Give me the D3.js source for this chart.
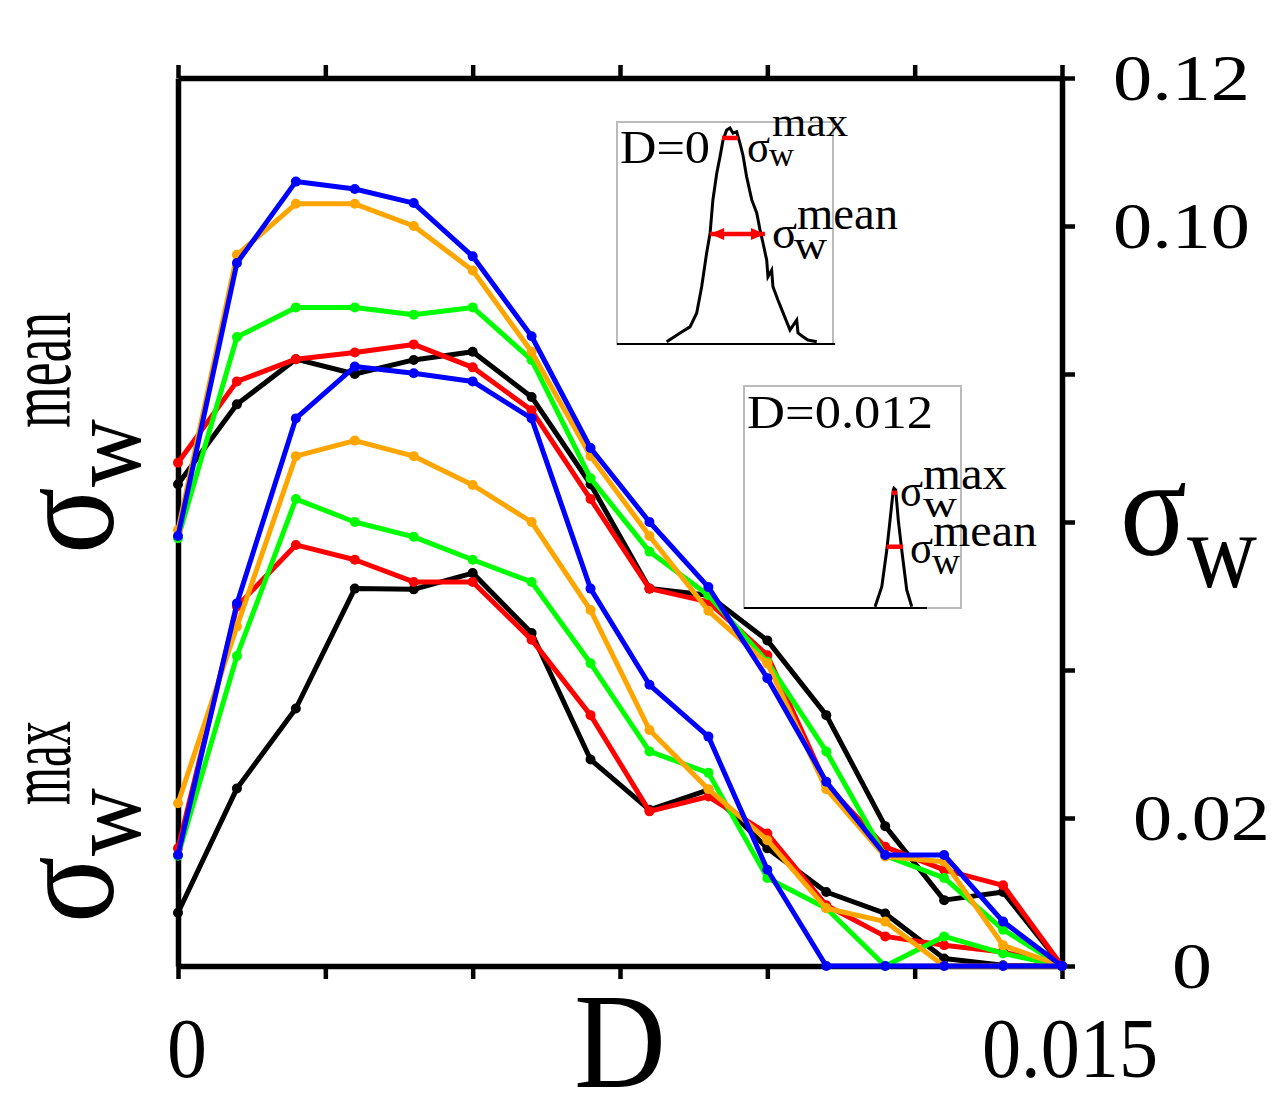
<!DOCTYPE html>
<html><head><meta charset="utf-8">
<script src="https://cdn.jsdelivr.net/npm/d3@7"></script>
<style>body{margin:0;background:#fff}svg{display:block}text{font-family:"Liberation Serif","Times New Roman",serif;fill:#000}</style>
</head><body><svg id="c" width="1280" height="1100"></svg>
<script>
// ---- data ----
const D = [0,0.001,0.002,0.003,0.004,0.005,0.006,0.007,0.008,0.009,0.010,0.011,0.012,0.013,0.014,0.015];
// upper group: sigma_w^mean
const meanBlack  = [0.0651,0.0759,0.0820,0.0800,0.0819,0.0830,0.0769,0.0651,0.0510,0.0501,0.0440,0.0339,0.0189,0.0089,0.0100,0];
const meanRed    = [0.0680,0.0790,0.0820,0.0829,0.0840,0.0809,0.0751,0.0631,0.0510,0.0492,0.0420,0.0245,0.0161,0.0130,0.0109,0];
const meanGreen  = [0.0578,0.0850,0.0890,0.0890,0.0880,0.0890,0.0819,0.0659,0.0560,0.0501,0.0411,0.0290,0.0149,0.0119,0.0049,0];
const meanOrange = [0.0589,0.0961,0.1030,0.1030,0.1000,0.0940,0.0830,0.0689,0.0581,0.0480,0.0409,0.0239,0.0148,0.0141,0.0028,0];
const meanBlue   = [0.0581,0.0950,0.1060,0.1050,0.1031,0.0959,0.0851,0.0700,0.0600,0.0512,0.0389,0.0249,0.0150,0.0150,0.0060,0];
// lower group: sigma_w^max
const maxBlack  = [0.0072,0.0240,0.0348,0.0510,0.0509,0.0531,0.0450,0.0279,0.0211,0.0238,0.0159,0.0100,0.0071,0.0010,0.0001,0];
const maxRed    = [0.0159,0.0486,0.0569,0.0549,0.0519,0.0519,0.0441,0.0339,0.0209,0.0229,0.0179,0.0082,0.0040,0.0028,0.0019,0];
const maxGreen  = [0.0149,0.0419,0.0631,0.0600,0.0580,0.0549,0.0519,0.0409,0.0290,0.0261,0.0119,0.0078,0,0.0040,0.0017,0];
const maxOrange = [0.0220,0.0459,0.0689,0.0710,0.0689,0.0650,0.0600,0.0481,0.0319,0.0239,0.0170,0.0078,0.0060,0,0,0];
const maxBlue   = [0.0150,0.0490,0.0740,0.0810,0.0801,0.0790,0.0740,0.0510,0.0380,0.0310,0.0130,0,0,0,0,0];

const seriesColors = ["#000000","#ff0000","#00ff00","#ffa500","#0000ff"];
const meanSeries = [meanBlack, meanRed, meanGreen, meanOrange, meanBlue];
const maxSeries  = [maxBlack, maxRed, maxGreen, maxOrange, maxBlue];

const xTicks = [0,0.0025,0.005,0.0075,0.01,0.0125,0.015];
const xTickLabels = ["0","0.015"];
const xTickLabelValues = [0,0.015];
const yTicks = [0,0.02,0.04,0.06,0.08,0.10,0.12];
const yTickLabels = ["0","0.02","0.10","0.12"];
const yTickLabelValues = [0,0.02,0.10,0.12];

// inset histograms (normalized width value, normalized count)
const inset1U = [0.230,0.292,0.338,0.369,0.392,0.415,0.431,0.444,0.462,0.477,0.491,0.508,0.523,0.537,0.554,0.569,0.583,0.600,0.624,0.647,0.662,0.676,0.693,0.699,0.716,0.722,0.745,0.769,0.801,0.832,0.838,0.861,0.884,0.925];
const inset1V = [0.010,0.050,0.077,0.140,0.258,0.410,0.500,0.649,0.770,0.844,0.919,0.964,0.973,0.950,0.956,0.905,0.851,0.754,0.649,0.590,0.514,0.455,0.378,0.303,0.333,0.258,0.198,0.140,0.063,0.108,0.050,0.033,0.018,0.010];
const inset2U = [0.604,0.635,0.658,0.673,0.688,0.691,0.699,0.711,0.727,0.750,0.773];
const inset2V = [0.006,0.096,0.261,0.396,0.532,0.539,0.532,0.396,0.261,0.081,0.006];
const inset1Max = {u0:0.486,u1:0.560,v:0.928}, inset1Mean = {u0:0.431,u1:0.685,v:0.495};
const inset2Max = {u0:0.682,u1:0.705,v:0.519}, inset2Mean = {u0:0.657,u1:0.733,v:0.276};

// ---- drawing ----
const svg = d3.select("#c");
const x = d3.scaleLinear().domain([0,0.015]).range([178,1062]);
const y = d3.scaleLinear().domain([0,0.12]).range([966,78]);

function styleAxis(g){
  g.selectAll("path.domain").attr("stroke","#000").attr("stroke-width",5.5);
  g.selectAll(".tick line").attr("stroke","#000").attr("stroke-width",4.5);
  g.selectAll(".tick text").remove();
}
svg.append("g").attr("transform","translate(0,966)")
  .call(d3.axisBottom(x).tickValues(xTicks).tickSize(13).tickSizeOuter(0)).call(styleAxis);
svg.append("g").attr("transform","translate(0,78)")
  .call(d3.axisTop(x).tickValues(xTicks).tickSize(13).tickSizeOuter(0)).call(styleAxis);
svg.append("g").attr("transform","translate(1062,0)")
  .call(d3.axisRight(y).tickValues(yTicks).tickSize(13).tickSizeOuter(0)).call(styleAxis);
svg.append("g").attr("transform","translate(178,0)")
  .call(d3.axisLeft(y).tickValues([]).tickSize(0).tickSizeOuter(0)).call(styleAxis);

// series
const line = d3.line().x((d,i)=>x(D[i])).y(d=>y(d));
const gS = svg.append("g");
seriesColors.forEach((c,k)=>{
  [maxSeries[k], meanSeries[k]].forEach(arr=>{
    gS.append("path").datum(arr).attr("d",line).attr("fill","none")
      .attr("stroke",c).attr("stroke-width",5).attr("stroke-linejoin","round");
    gS.selectAll(null).data(arr).enter().append("circle")
      .attr("cx",(d,i)=>x(D[i])).attr("cy",d=>y(d)).attr("r",5).attr("fill",c);
  });
});

function fitText(g,x0,yb,fs,len,txt){
  return g.append("text").attr("x",x0).attr("y",yb).attr("font-size",fs)
    .attr("textLength",len).attr("lengthAdjust","spacingAndGlyphs").text(txt);
}

// tick labels
xTickLabels.forEach((t,i)=>{
  const len = t.length>1 ? 176 : 40;
  fitText(svg, x(xTickLabelValues[i]) + (t.length>1 ? -80 : -11), 1077, 84, len, t);
});
const yLabX = {"0.12":1113,"0.10":1113,"0.02":1133,"0":1172};
const yLabLen = {"0.12":137,"0.10":137,"0.02":137,"0":40};
yTickLabels.forEach((t,i)=>{
  fitText(svg, yLabX[t], y(yTickLabelValues[i])+22, 66, yLabLen[t], t);
});

// axis titles
fitText(svg,574,1087,136,92,"D");
fitText(svg,1120,555,140,67,"σ");
fitText(svg,1187,587,108,70,"w");

// left rotated labels
const gMean = svg.append("g").attr("transform","translate(113,554) rotate(-90)");
fitText(gMean,0,0,142,67,"σ");
fitText(gMean,67,27,104,68,"w");
fitText(gMean,126,-43,92,116,"mean");
const gMax = svg.append("g").attr("transform","translate(113,923) rotate(-90)");
fitText(gMax,0,0,142,67,"σ");
fitText(gMax,67,27,104,68,"w");
fitText(gMax,118,-43,92,84,"max");

// insets
function inset(box, U, V, mx, mn, title, titleLen, lineEnd){
  const xi = d3.scaleLinear().domain([0,1]).range([box.x0,box.x1]);
  const yi = d3.scaleLinear().domain([0,1]).range([box.y1,box.y0]);
  const g = svg.append("g");
  g.append("rect").attr("x",box.x0).attr("y",box.y0).attr("width",box.x1-box.x0).attr("height",box.y1-box.y0)
    .attr("fill","#fff").attr("stroke","#bbbbbb").attr("stroke-width",2);
  g.append("line").attr("x1",xi(0)).attr("x2",xi(lineEnd)).attr("y1",yi(0)).attr("y2",yi(0))
    .attr("stroke","#000").attr("stroke-width",2);
  g.append("path").datum(U.map((u,i)=>[u,V[i]]))
    .attr("d",d3.line().x(d=>xi(d[0])).y(d=>yi(d[1])))
    .attr("fill","none").attr("stroke","#000").attr("stroke-width",3);
  g.append("line").attr("x1",xi(mx.u0)).attr("x2",xi(mx.u1)).attr("y1",yi(mx.v)).attr("y2",yi(mx.v))
    .attr("stroke","#ff0000").attr("stroke-width",4.5);
  g.append("line").attr("x1",xi(mn.u0)).attr("x2",xi(mn.u1)).attr("y1",yi(mn.v)).attr("y2",yi(mn.v))
    .attr("stroke","#ff0000").attr("stroke-width",4.5);
  fitText(g,box.x0+3,box.ty,46,titleLen,title);
  return {g,xi,yi};
}
const in1 = inset({x0:617,x1:833,y0:122,y1:344,ty:163}, inset1U, inset1V, inset1Max, inset1Mean, "D=0", 90, 1.01);
[[inset1Mean.u0,1],[inset1Mean.u1,-1]].forEach(([u,s])=>{
  const px = in1.xi(u), py = in1.yi(inset1Mean.v);
  in1.g.append("path").attr("d",`M${px},${py} L${px+s*14},${py-6} L${px+s*14},${py+6} Z`).attr("fill","#ff0000");
});
const in2 = inset({x0:744,x1:961,y0:386,y1:608,ty:428}, inset2U, inset2V, inset2Max, inset2Mean, "D=0.012", 186, 0.843);

// inset labels
fitText(svg,747,162,46,23,"σ"); fitText(svg,769,166,33,25,"w"); fitText(svg,772,136,41,76,"max");
fitText(svg,772,248,46,25,"σ"); fitText(svg,794,259,39,33,"w"); fitText(svg,797,229,46,101,"mean");
fitText(svg,900,506,46,23,"σ"); fitText(svg,923,517,37,34,"w"); fitText(svg,923,489,46,84,"max");
fitText(svg,910,563,46,23,"σ"); fitText(svg,932,574,37,28,"w"); fitText(svg,933,546,46,104,"mean");
</script></body></html>
